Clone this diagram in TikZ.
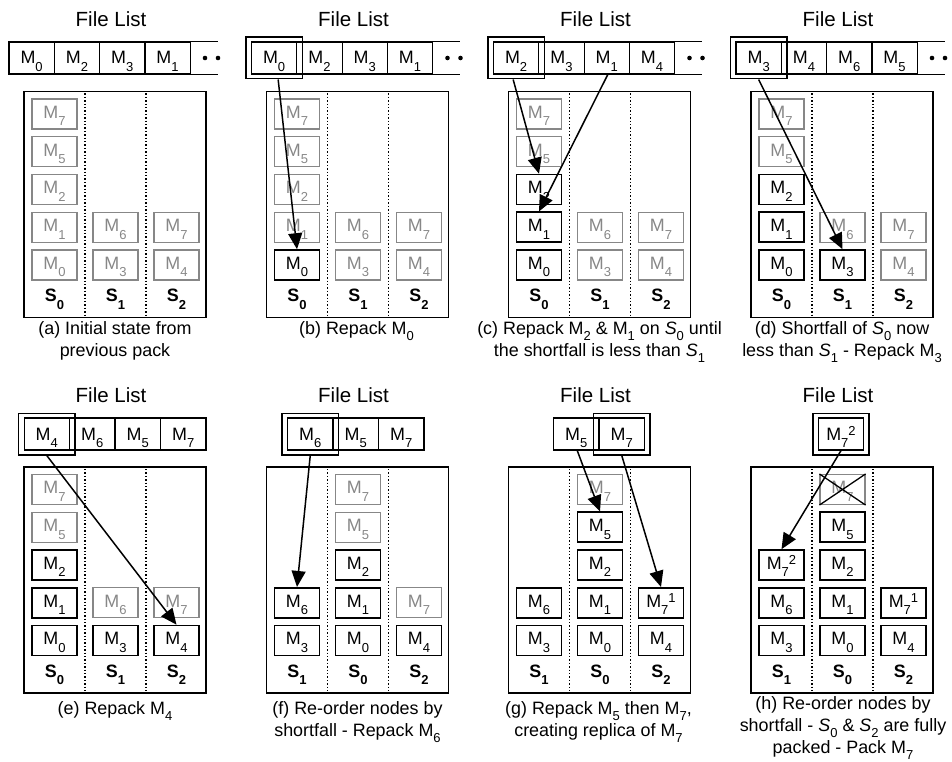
\documentclass[tikz,border=0pt]{standalone}
\usepackage{fontspec}
\setmainfont{Liberation Sans}
\usetikzlibrary{arrows.meta,fit}
\definecolor{gry}{RGB}{135,135,135}
\newcommand{\subf}{\fontsize{13}{13}\selectfont}
\newcommand{\mfont}{\fontsize{17.9}{22}\selectfont}
\newcommand{\sbx}[1]{\raisebox{-7.5pt}{\subf #1}}
\newcommand{\csb}[1]{\raisebox{-6pt}{\subf #1}}
\newcommand{\spx}[1]{\raisebox{5pt}{\subf #1}}
\newcommand{\Mx}[1]{M\sbx{#1}}
\newcommand{\Cx}[1]{M\csb{#1}}
\newcommand{\Mxy}[2]{M\sbx{#1}\spx{#2}}
\newcommand{\Sx}[1]{\textbf{S\sbx{#1}}}
\newcommand{\MB}[5]{\node[#1] (#2) at ({\PL+30.5+61*#3},{\PT+22.5+37.75*#4}) {#5};}
\newcommand{\CELL}[4]{\node[cell] (#1) at ({\PL+#2},#3) {#4};}
\newcommand{\SRV}[4]{%
  \node[srv] (#1srv) at ({\PL+91},{\PT+113}) {};
  \draw[divl] ({\PL+61},{\PT+2}) -- ({\PL+61},{\PT+224});
  \draw[divl] ({\PL+122},{\PT+2}) -- ({\PL+122},{\PT+224});
  \node[slab] (#1s0) at ({\PL+30.5},{\PT+210}) {\Sx{#2}};
  \node[slab] (#1s1) at ({\PL+91.5},{\PT+210}) {\Sx{#3}};
  \node[slab] (#1s2) at ({\PL+152.5},{\PT+210}) {\Sx{#4}};
}
\newcommand{\OPEN}[2]{%
  \draw[line width=1.2pt] (#1.north east) -- ++(27,0);
  \draw[line width=1.2pt] (#1.south east) -- ++(27,0);
  \fill ({\PL+181},#2) circle (2.3pt);
  \fill ({\PL+194},#2) circle (2.3pt);
}
\tikzset{
  mb/.style={draw, line width=1.6pt, minimum width=45pt, minimum height=30pt, inner sep=0pt,
    text height=16pt, text depth=7.2pt, font=\mfont},
  gb/.style={mb, draw=gry, text=gry, line width=1.1pt},
  cell/.style={draw, line width=1.2pt, minimum width=45.3pt, minimum height=32pt, inner sep=0pt,
    text height=17.6pt, text depth=5.6pt, font=\mfont},
  hl/.style={draw, line width=1.8pt, inner xsep=5pt, inner ysep=4pt},
  srv/.style={draw, line width=1.8pt, minimum width=182pt, minimum height=226pt, inner sep=0pt},
  divl/.style={dotted, line width=1.4pt},
  slab/.style={anchor=base, inner sep=0pt, font=\mfont},
  flab/.style={anchor=base, inner sep=0pt, font=\fontsize{20.5}{22}\selectfont},
  capn/.style={anchor=base, inner sep=0pt, align=center, font=\fontsize{17.9}{22}\selectfont},
  arr/.style={-{Triangle[length=16pt,width=14pt]}, line width=1.5pt},
}
\begin{document}
\begin{tikzpicture}[x=1pt,y=-1pt]
\useasboundingbox (0,0) rectangle (952,762);
% ---------------- (a)
\def\PL{24}\def\PT{91.5}
\node[flab] (a-fl) at ({\PL+87},27) {File List};
\CELL{a-c1}{7.65}{58}{\Mx0}
\CELL{a-c2}{52.95}{58}{\Mx2}
\CELL{a-c3}{98.25}{58}{\Mx3}
\CELL{a-c4}{143.55}{58}{\Mx1}
\OPEN{a-c4}{58}
\SRV{a-}{0}{1}{2}
\MB{gb}{a-m7}{0}{0}{\Mx7}
\MB{gb}{a-m5}{0}{1}{\Mx5}
\MB{gb}{a-m2}{0}{2}{\Mx2}
\MB{gb}{a-m1}{0}{3}{\Mx1}
\MB{gb}{a-m0}{0}{4}{\Mx0}
\MB{gb}{a-m6}{1}{3}{\Mx6}
\MB{gb}{a-m3}{1}{4}{\Mx3}
\MB{gb}{a-m7b}{2}{3}{\Mx7}
\MB{gb}{a-m4}{2}{4}{\Mx4}
\node[capn] (a-cap) at ({\PL+91},356) {(a) Initial state from\\previous pack};
% ---------------- (b)
\def\PL{266.5}\def\PT{91.5}
\node[flab] (b-fl) at ({\PL+87},27) {File List};
\CELL{b-c1}{7.65}{58}{\Mx0}
\CELL{b-c2}{52.95}{58}{\Mx2}
\CELL{b-c3}{98.25}{58}{\Mx3}
\CELL{b-c4}{143.55}{58}{\Mx1}
\OPEN{b-c4}{58}
\node[hl, fit=(b-c1)] (b-hl) {};
\SRV{b-}{0}{1}{2}
\MB{gb}{b-m7}{0}{0}{\Mx7}
\MB{gb}{b-m5}{0}{1}{\Mx5}
\MB{gb}{b-m2}{0}{2}{\Mx2}
\MB{gb}{b-m1}{0}{3}{\Mx1}
\MB{mb}{b-m0}{0}{4}{\Mx0}
\MB{gb}{b-m6}{1}{3}{\Mx6}
\MB{gb}{b-m3}{1}{4}{\Mx3}
\MB{gb}{b-m7b}{2}{3}{\Mx7}
\MB{gb}{b-m4}{2}{4}{\Mx4}
\draw[arr] ([xshift=4pt]b-hl.south) -- (b-m0.north);
\node[capn] (b-cap) at ({\PL+90},334) {(b) Repack \Cx0};
% ---------------- (c)
\def\PL{508.5}\def\PT{91.5}
\node[flab] (c-fl) at ({\PL+87},27) {File List};
\CELL{c-c1}{7.65}{58}{\Mx2}
\CELL{c-c2}{52.95}{58}{\Mx3}
\CELL{c-c3}{98.25}{58}{\Mx1}
\CELL{c-c4}{143.55}{58}{\Mx4}
\OPEN{c-c4}{58}
\node[hl, fit=(c-c1)] (c-hl) {};
\SRV{c-}{0}{1}{2}
\MB{gb}{c-m7}{0}{0}{\Mx7}
\MB{gb}{c-m5}{0}{1}{\Mx5}
\MB{mb}{c-m2}{0}{2}{\Mx2}
\MB{mb}{c-m1}{0}{3}{\Mx1}
\MB{mb}{c-m0}{0}{4}{\Mx0}
\MB{gb}{c-m6}{1}{3}{\Mx6}
\MB{gb}{c-m3}{1}{4}{\Mx3}
\MB{gb}{c-m7b}{2}{3}{\Mx7}
\MB{gb}{c-m4}{2}{4}{\Mx4}
\draw[arr] ([xshift=-3pt]c-hl.south) -- (c-m2.north);
\draw[arr] ([xshift=1pt]c-c3.south) -- (c-m1.north);
\node[capn] (c-cap) at ({\PL+91},356) {(c) Repack \Cx2 \& \Cx1 on \textit{S}\csb0 until\\the shortfall is less than \textit{S}\csb1};
% ---------------- (d)
\def\PL{751}\def\PT{91.5}
\node[flab] (d-fl) at ({\PL+87},27) {File List};
\CELL{d-c1}{7.65}{58}{\Mx3}
\CELL{d-c2}{52.95}{58}{\Mx4}
\CELL{d-c3}{98.25}{58}{\Mx6}
\CELL{d-c4}{143.55}{58}{\Mx5}
\OPEN{d-c4}{58}
\node[hl, fit=(d-c1)] (d-hl) {};
\SRV{d-}{0}{1}{2}
\MB{gb}{d-m7}{0}{0}{\Mx7}
\MB{gb}{d-m5}{0}{1}{\Mx5}
\MB{mb}{d-m2}{0}{2}{\Mx2}
\MB{mb}{d-m1}{0}{3}{\Mx1}
\MB{mb}{d-m0}{0}{4}{\Mx0}
\MB{gb}{d-m6}{1}{3}{\Mx6}
\MB{mb}{d-m3}{1}{4}{\Mx3}
\MB{gb}{d-m7b}{2}{3}{\Mx7}
\MB{gb}{d-m4}{2}{4}{\Mx4}
\draw[arr] (d-hl.south) -- (d-m3.north);
\node[capn] (d-cap) at ({\PL+91},356) {(d) Shortfall of \textit{S}\csb0 now\\less than \textit{S}\csb1 - Repack \Cx3};
% ---------------- (e)
\def\PL{24}\def\PT{467}
\node[flab] (e-fl) at ({\PL+87},402) {File List};
\CELL{e-c1}{22.75}{434}{\Mx4}
\CELL{e-c2}{68.25}{434}{\Mx6}
\CELL{e-c3}{113.75}{434}{\Mx5}
\CELL{e-c4}{159.25}{434}{\Mx7}
\node[hl, fit=(e-c1)] (e-hl) {};
\SRV{e-}{0}{1}{2}
\MB{gb}{e-m7}{0}{0}{\Mx7}
\MB{gb}{e-m5}{0}{1}{\Mx5}
\MB{mb}{e-m2}{0}{2}{\Mx2}
\MB{mb}{e-m1}{0}{3}{\Mx1}
\MB{mb}{e-m0}{0}{4}{\Mx0}
\MB{gb}{e-m6}{1}{3}{\Mx6}
\MB{mb}{e-m3}{1}{4}{\Mx3}
\MB{gb}{e-m7b}{2}{3}{\Mx7}
\MB{mb}{e-m4}{2}{4}{\Mx4}
\draw[arr] (e-hl.south) -- (e-m4.north);
\node[capn] (e-cap) at ({\PL+91},714) {(e) Repack \Cx4};
% ---------------- (f)
\def\PL{266.5}\def\PT{467}
\node[flab] (f-fl) at ({\PL+87},402) {File List};
\CELL{f-c1}{43.75}{434}{\Mx6}
\CELL{f-c2}{89.25}{434}{\Mx5}
\CELL{f-c3}{134.75}{434}{\Mx7}
\node[hl, fit=(f-c1)] (f-hl) {};
\SRV{f-}{1}{0}{2}
\MB{mb}{f-m6}{0}{3}{\Mx6}
\MB{mb}{f-m3}{0}{4}{\Mx3}
\MB{gb}{f-m7}{1}{0}{\Mx7}
\MB{gb}{f-m5}{1}{1}{\Mx5}
\MB{mb}{f-m2}{1}{2}{\Mx2}
\MB{mb}{f-m1}{1}{3}{\Mx1}
\MB{mb}{f-m0}{1}{4}{\Mx0}
\MB{gb}{f-m7b}{2}{3}{\Mx7}
\MB{mb}{f-m4}{2}{4}{\Mx4}
\draw[arr] (f-hl.south) -- (f-m6.north);
\node[capn] (f-cap) at ({\PL+91},736) {(f) Re-order nodes by\\shortfall - Repack \Cx6};
% ---------------- (g)
\def\PL{508.5}\def\PT{467}
\node[flab] (g-fl) at ({\PL+87},402) {File List};
\CELL{g-c1}{67.75}{434}{\Mx5}
\CELL{g-c2}{113.25}{434}{\Mx7}
\node[hl, fit=(g-c2)] (g-hl) {};
\SRV{g-}{1}{0}{2}
\MB{mb}{g-m6}{0}{3}{\Mx6}
\MB{mb}{g-m3}{0}{4}{\Mx3}
\MB{gb}{g-m7g}{1}{0}{\Mx7}
\MB{mb}{g-m5}{1}{1}{\Mx5}
\MB{mb}{g-m2}{1}{2}{\Mx2}
\MB{mb}{g-m1}{1}{3}{\Mx1}
\MB{mb}{g-m0}{1}{4}{\Mx0}
\MB{mb}{g-m7}{2}{3}{\Mxy71}
\MB{mb}{g-m4}{2}{4}{\Mx4}
\draw[arr] ([xshift=1pt]g-c1.south) -- (g-m5.north);
\draw[arr] (g-hl.south) -- (g-m7.north);
\node[capn] (g-cap) at ({\PL+90},736) {(g) Repack \Cx5 then \Cx7,\\creating replica of \Cx7};
% ---------------- (h)
\def\PL{751}\def\PT{467}
\node[flab] (h-fl) at ({\PL+87},402) {File List};
\CELL{h-c1}{90}{434}{\Mxy72}
\node[hl, fit=(h-c1)] (h-hl) {};
\SRV{h-}{1}{0}{2}
\MB{mb}{h-m7}{0}{2}{\Mxy72}
\MB{mb}{h-m6}{0}{3}{\Mx6}
\MB{mb}{h-m3}{0}{4}{\Mx3}
\MB{gb}{h-x}{1}{0}{\Mx7}
\draw[line width=1.3pt] (h-x.north west) -- (h-x.south east);
\draw[line width=1.3pt] (h-x.north east) -- (h-x.south west);
\MB{mb}{h-m5}{1}{1}{\Mx5}
\MB{mb}{h-m2}{1}{2}{\Mx2}
\MB{mb}{h-m1}{1}{3}{\Mx1}
\MB{mb}{h-m0}{1}{4}{\Mx0}
\MB{mb}{h-m71}{2}{3}{\Mxy71}
\MB{mb}{h-m4}{2}{4}{\Mx4}
\draw[arr] (h-c1.south) -- (h-m7.north);
\node[capn] (h-cap) at ({\PL+92},753) {(h) Re-order nodes by\\shortfall - \textit{S}\csb0 \& \textit{S}\csb2 are fully\\packed - Pack \Cx7};
\end{tikzpicture}
\end{document}
